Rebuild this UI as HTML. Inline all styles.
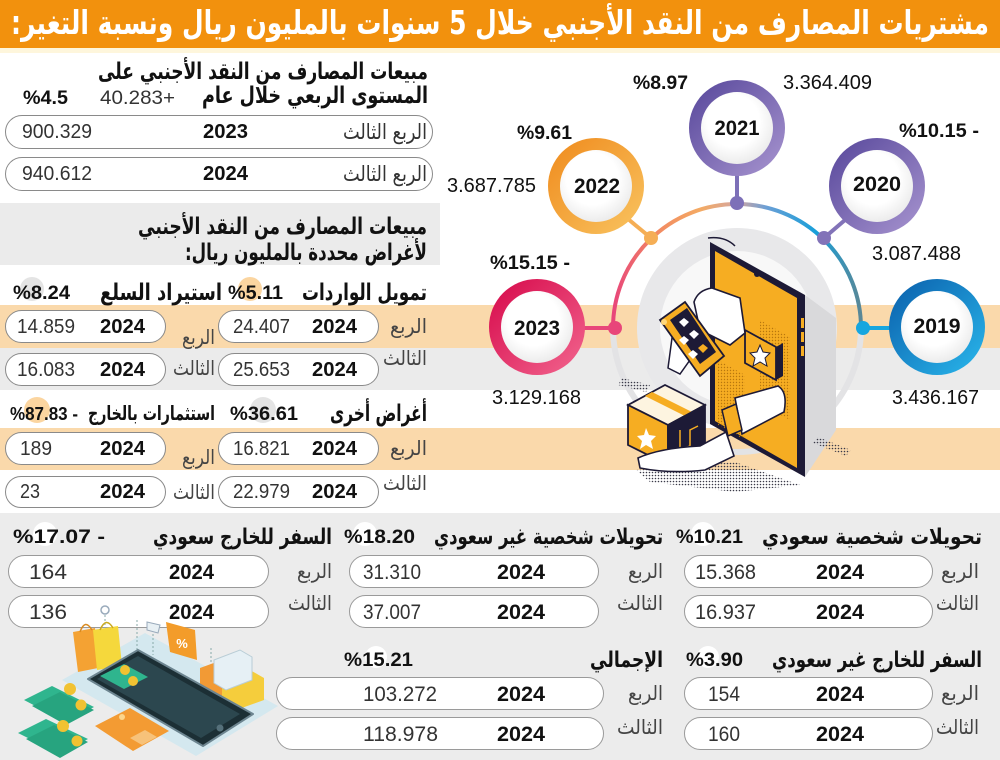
<!DOCTYPE html>
<html><head><meta charset="utf-8"><style>
html,body{margin:0;padding:0;background:#fff;}
svg{display:block;}
.ar{font-family:"DejaVu Sans",sans-serif;}
.arb{font-family:"DejaVu Sans",sans-serif;font-weight:bold;}
.n{font-family:"Liberation Sans","DejaVu Sans",sans-serif;fill:#333;}
.nb{font-family:"Liberation Sans","DejaVu Sans",sans-serif;font-weight:bold;fill:#111;}
</style></head><body>
<svg width="1000" height="760" viewBox="0 0 1000 760" xmlns="http://www.w3.org/2000/svg">
<defs>
<linearGradient id="gPur" x1="0" y1="0" x2="1" y2="1"><stop offset="0" stop-color="#56469a"/><stop offset="1" stop-color="#a895d0"/></linearGradient>
<linearGradient id="gOr" x1="0" y1="0" x2="1" y2="1"><stop offset="0" stop-color="#ef8a1c"/><stop offset="1" stop-color="#f9c461"/></linearGradient>
<linearGradient id="gRed" x1="0" y1="0" x2="1" y2="1"><stop offset="0" stop-color="#d6084a"/><stop offset="1" stop-color="#f2668f"/></linearGradient>
<linearGradient id="gBlue" x1="0" y1="0" x2="1" y2="1"><stop offset="0" stop-color="#0a5eab"/><stop offset="1" stop-color="#2ab8ec"/></linearGradient>
<radialGradient id="gIn" cx="0.45" cy="0.4" r="0.6"><stop offset="0.6" stop-color="#ffffff"/><stop offset="1" stop-color="#ececec"/></radialGradient>
<linearGradient id="gArc" gradientUnits="userSpaceOnUse" x1="613" y1="0" x2="861" y2="0">
<stop offset="0" stop-color="#e8457a"/><stop offset="0.18" stop-color="#f28a62"/><stop offset="0.35" stop-color="#f4aa63"/><stop offset="0.5" stop-color="#d4a6a0"/><stop offset="0.62" stop-color="#6a9fd6"/><stop offset="0.82" stop-color="#189fd9"/><stop offset="1" stop-color="#5a8796"/>
</linearGradient>
<pattern id="dots" width="3" height="3" patternUnits="userSpaceOnUse"><circle cx="1.5" cy="1.5" r="0.8" fill="#3a3a48"/></pattern>
<pattern id="dotsO" width="3" height="3" patternUnits="userSpaceOnUse"><circle cx="1.5" cy="1.5" r="0.7" fill="#b8770d"/></pattern>
</defs>

<!-- backgrounds -->
<rect x="0" y="0" width="1000" height="760" fill="#ffffff"/>
<rect x="0" y="0" width="1000" height="48" fill="#f2910d"/>
<rect x="0" y="48" width="1000" height="5" fill="#fef6dc"/>
<rect x="0" y="203" width="440" height="62" fill="#ebebeb"/>
<rect x="0" y="305" width="1000" height="43" fill="#fad9ab"/>
<rect x="0" y="348" width="1000" height="42" fill="#ebebeb"/>
<rect x="0" y="428" width="1000" height="42" fill="#fad9ab"/>
<rect x="0" y="513" width="1000" height="247" fill="#ececec"/>

<!-- title -->
<text class="arb" x="500" y="34" font-size="33" fill="#ffffff" text-anchor="middle" textLength="978" lengthAdjust="spacingAndGlyphs">:مشتريات المصارف من النقد الأجنبي خلال 5 سنوات بالمليون ريال ونسبة التغير</text>

<!-- top-left panel -->
<text class="arb" x="263" y="79" font-size="23" fill="#111" text-anchor="middle" textLength="330" lengthAdjust="spacingAndGlyphs">مبيعات المصارف من النقد الأجنبي على</text>
<text class="arb" x="315" y="103" font-size="23" fill="#111" text-anchor="middle" textLength="226" lengthAdjust="spacingAndGlyphs">المستوى الربعي خلال عام</text>
<text class="nb" x="45.5" y="104" font-size="19" text-anchor="middle" textLength="45" lengthAdjust="spacingAndGlyphs">%4.5</text>
<text class="n" x="137.5" y="104" font-size="19" text-anchor="middle" textLength="75" lengthAdjust="spacingAndGlyphs">40.283+</text>

<rect x="5.5" y="115.5" width="427" height="33" rx="16.5" fill="#fff" stroke="#8a8a8a" stroke-width="1"/>
<text class="n" x="57" y="138" font-size="20" text-anchor="middle" textLength="70" lengthAdjust="spacingAndGlyphs">900.329</text>
<text class="nb" x="225.5" y="138" font-size="20" text-anchor="middle" textLength="45" lengthAdjust="spacingAndGlyphs">2023</text>
<text class="ar" x="385" y="139" font-size="21" fill="#333" text-anchor="middle" textLength="84" lengthAdjust="spacingAndGlyphs">الربع الثالث</text>

<rect x="5.5" y="157.5" width="427" height="33" rx="16.5" fill="#fff" stroke="#8a8a8a" stroke-width="1"/>
<text class="n" x="57" y="180" font-size="20" text-anchor="middle" textLength="70" lengthAdjust="spacingAndGlyphs">940.612</text>
<text class="nb" x="225.5" y="180" font-size="20" text-anchor="middle" textLength="45" lengthAdjust="spacingAndGlyphs">2024</text>
<text class="ar" x="385" y="181" font-size="21" fill="#333" text-anchor="middle" textLength="84" lengthAdjust="spacingAndGlyphs">الربع الثالث</text>

<!-- gray box -->
<text class="arb" x="282.5" y="234" font-size="23" fill="#111" text-anchor="middle" textLength="289" lengthAdjust="spacingAndGlyphs">مبيعات المصارف من النقد الأجنبي</text>
<text class="arb" x="306" y="260" font-size="23" fill="#111" text-anchor="middle" textLength="242" lengthAdjust="spacingAndGlyphs">:لأغراض محددة بالمليون ريال</text>

<!-- header row 1 -->
<circle cx="250" cy="289" r="12" fill="#fbd5a0"/>
<circle cx="32" cy="289" r="12" fill="#e4e4e4"/>
<text class="arb" x="364.5" y="300" font-size="23" fill="#111" text-anchor="middle" textLength="125" lengthAdjust="spacingAndGlyphs">تمويل الواردات</text>
<text class="nb" x="255.5" y="299" font-size="19" text-anchor="middle" textLength="55" lengthAdjust="spacingAndGlyphs">%5.11</text>
<text class="arb" x="161" y="300" font-size="23" fill="#111" text-anchor="middle" textLength="122" lengthAdjust="spacingAndGlyphs">استيراد السلع</text>
<text class="nb" x="41.5" y="299" font-size="19" text-anchor="middle" textLength="57" lengthAdjust="spacingAndGlyphs">%8.24</text>

<!-- row 1 -->
<rect x="5.5" y="310.5" width="160" height="32" rx="16" fill="#fff" stroke="#8a8a8a"/>
<rect x="218.5" y="310.5" width="160" height="32" rx="16" fill="#fff" stroke="#8a8a8a"/>
<text class="n" x="46" y="333" font-size="20" text-anchor="middle" textLength="58" lengthAdjust="spacingAndGlyphs">14.859</text>
<text class="nb" x="122.5" y="333" font-size="20" text-anchor="middle" textLength="45" lengthAdjust="spacingAndGlyphs">2024</text>
<text class="n" x="261.5" y="333" font-size="20" text-anchor="middle" textLength="57" lengthAdjust="spacingAndGlyphs">24.407</text>
<text class="nb" x="334.5" y="333" font-size="20" text-anchor="middle" textLength="45" lengthAdjust="spacingAndGlyphs">2024</text>
<text class="ar" x="198.5" y="344" font-size="20" fill="#444" text-anchor="middle" textLength="33" lengthAdjust="spacingAndGlyphs">الربع</text>
<text class="ar" x="408.5" y="333" font-size="20" fill="#444" text-anchor="middle" textLength="37" lengthAdjust="spacingAndGlyphs">الربع</text>

<!-- row 2 -->
<rect x="5.5" y="353.5" width="160" height="32" rx="16" fill="#fff" stroke="#8a8a8a"/>
<rect x="218.5" y="353.5" width="160" height="32" rx="16" fill="#fff" stroke="#8a8a8a"/>
<text class="n" x="46" y="376" font-size="20" text-anchor="middle" textLength="58" lengthAdjust="spacingAndGlyphs">16.083</text>
<text class="nb" x="122.5" y="376" font-size="20" text-anchor="middle" textLength="45" lengthAdjust="spacingAndGlyphs">2024</text>
<text class="n" x="261.5" y="376" font-size="20" text-anchor="middle" textLength="57" lengthAdjust="spacingAndGlyphs">25.653</text>
<text class="nb" x="334.5" y="376" font-size="20" text-anchor="middle" textLength="45" lengthAdjust="spacingAndGlyphs">2024</text>
<text class="ar" x="194" y="375" font-size="20" fill="#444" text-anchor="middle" textLength="42" lengthAdjust="spacingAndGlyphs">الثالث</text>
<text class="ar" x="405" y="365" font-size="20" fill="#444" text-anchor="middle" textLength="44" lengthAdjust="spacingAndGlyphs">الثالث</text>

<!-- header row 2 -->
<circle cx="263" cy="410" r="13" fill="#e4e4e4"/>
<circle cx="37" cy="410" r="13" fill="#fbd5a0"/>
<text class="arb" x="378.5" y="421" font-size="23" fill="#111" text-anchor="middle" textLength="97" lengthAdjust="spacingAndGlyphs">أغراض أخرى</text>
<text class="nb" x="264" y="420" font-size="19" text-anchor="middle" textLength="68" lengthAdjust="spacingAndGlyphs">%36.61</text>
<text class="arb" x="151.5" y="420" font-size="20" fill="#111" text-anchor="middle" textLength="127" lengthAdjust="spacingAndGlyphs">استثمارات بالخارج</text>
<text class="nb" x="44" y="420" font-size="18" text-anchor="middle" textLength="68" lengthAdjust="spacingAndGlyphs">%87.83 -</text>

<!-- row 3 -->
<rect x="5.5" y="432.5" width="160" height="32" rx="16" fill="#fff" stroke="#8a8a8a"/>
<rect x="218.5" y="432.5" width="160" height="32" rx="16" fill="#fff" stroke="#8a8a8a"/>
<text class="n" x="36" y="455" font-size="20" text-anchor="middle" textLength="32" lengthAdjust="spacingAndGlyphs">189</text>
<text class="nb" x="122.5" y="455" font-size="20" text-anchor="middle" textLength="45" lengthAdjust="spacingAndGlyphs">2024</text>
<text class="n" x="261.5" y="455" font-size="20" text-anchor="middle" textLength="57" lengthAdjust="spacingAndGlyphs">16.821</text>
<text class="nb" x="334.5" y="455" font-size="20" text-anchor="middle" textLength="45" lengthAdjust="spacingAndGlyphs">2024</text>
<text class="ar" x="198.5" y="464" font-size="20" fill="#444" text-anchor="middle" textLength="33" lengthAdjust="spacingAndGlyphs">الربع</text>
<text class="ar" x="408.5" y="455" font-size="20" fill="#444" text-anchor="middle" textLength="37" lengthAdjust="spacingAndGlyphs">الربع</text>

<!-- row 4 -->
<rect x="5.5" y="476.5" width="160" height="31" rx="15.5" fill="#fff" stroke="#8a8a8a"/>
<rect x="218.5" y="476.5" width="160" height="31" rx="15.5" fill="#fff" stroke="#8a8a8a"/>
<text class="n" x="30" y="498" font-size="20" text-anchor="middle" textLength="20" lengthAdjust="spacingAndGlyphs">23</text>
<text class="nb" x="122.5" y="498" font-size="20" text-anchor="middle" textLength="45" lengthAdjust="spacingAndGlyphs">2024</text>
<text class="n" x="261.5" y="498" font-size="20" text-anchor="middle" textLength="57" lengthAdjust="spacingAndGlyphs">22.979</text>
<text class="nb" x="334.5" y="498" font-size="20" text-anchor="middle" textLength="45" lengthAdjust="spacingAndGlyphs">2024</text>
<text class="ar" x="194" y="499" font-size="20" fill="#444" text-anchor="middle" textLength="42" lengthAdjust="spacingAndGlyphs">الثالث</text>
<text class="ar" x="405" y="490" font-size="20" fill="#444" text-anchor="middle" textLength="44" lengthAdjust="spacingAndGlyphs">الثالث</text>

<!-- ===== right: timeline ===== -->
<circle cx="737" cy="328" r="100" fill="#e8e8ea"/>
<circle cx="737" cy="328" r="77" fill="#f8f8f8"/>
<path d="M613 328 A124 124 0 0 0 861 328" fill="none" stroke="#e3e3e5" stroke-width="6"/>
<path d="M613 328 A124 124 0 0 1 861 328" fill="none" stroke="url(#gArc)" stroke-width="4"/>
<polygon points="805,295 836,318 836,430 805,477" fill="#d9d9db"/>

<!-- connectors -->
<line x1="737" y1="175" x2="737" y2="203" stroke="#7d70b8" stroke-width="4"/>
<line x1="628" y1="219" x2="651" y2="238" stroke="#f5ae55" stroke-width="4"/>
<line x1="845" y1="220" x2="824" y2="238" stroke="#8273b8" stroke-width="4"/>
<line x1="584" y1="328" x2="615" y2="328" stroke="#e8467a" stroke-width="4"/>
<line x1="863" y1="328" x2="890" y2="328" stroke="#17a6df" stroke-width="4"/>
<circle cx="737" cy="203" r="7" fill="#7d70b8"/>
<circle cx="651" cy="238" r="7" fill="#f5ae55"/>
<circle cx="824" cy="238" r="7" fill="#8273b8"/>
<circle cx="615" cy="328" r="7" fill="#e8467a"/>
<circle cx="863" cy="328" r="7" fill="#17a6df"/>

<!-- circles -->
<circle cx="737" cy="128" r="48" fill="url(#gPur)"/><circle cx="737" cy="128" r="36" fill="url(#gIn)"/>
<circle cx="596" cy="186" r="48" fill="url(#gOr)"/><circle cx="596" cy="186" r="36" fill="url(#gIn)"/>
<circle cx="877" cy="186" r="48" fill="url(#gPur)"/><circle cx="877" cy="186" r="36" fill="url(#gIn)"/>
<circle cx="537" cy="327" r="48" fill="url(#gRed)"/><circle cx="537" cy="327" r="36" fill="url(#gIn)"/>
<circle cx="937" cy="327" r="48" fill="url(#gBlue)"/><circle cx="937" cy="327" r="36" fill="url(#gIn)"/>

<text class="nb" x="737" y="135" font-size="21" text-anchor="middle" textLength="45" lengthAdjust="spacingAndGlyphs">2021</text>
<text class="nb" x="597" y="193" font-size="21" text-anchor="middle" textLength="46" lengthAdjust="spacingAndGlyphs">2022</text>
<text class="nb" x="877" y="191" font-size="21" text-anchor="middle" textLength="48" lengthAdjust="spacingAndGlyphs">2020</text>
<text class="nb" x="537" y="335" font-size="21" text-anchor="middle" textLength="46" lengthAdjust="spacingAndGlyphs">2023</text>
<text class="nb" x="937" y="333" font-size="21" text-anchor="middle" textLength="47" lengthAdjust="spacingAndGlyphs">2019</text>

<text class="nb" x="660.5" y="89" font-size="19" text-anchor="middle" textLength="55" lengthAdjust="spacingAndGlyphs">%8.97</text>
<text class="n" x="827.5" y="89" font-size="20" text-anchor="middle" textLength="89" lengthAdjust="spacingAndGlyphs" style="fill:#111">3.364.409</text>
<text class="nb" x="544.5" y="139" font-size="19" text-anchor="middle" textLength="55" lengthAdjust="spacingAndGlyphs">%9.61</text>
<text class="nb" x="939" y="137" font-size="19" text-anchor="middle" textLength="80" lengthAdjust="spacingAndGlyphs">%10.15 -</text>
<text class="n" x="491.5" y="192" font-size="20" text-anchor="middle" textLength="89" lengthAdjust="spacingAndGlyphs" style="fill:#111">3.687.785</text>
<text class="n" x="916.5" y="260" font-size="20" text-anchor="middle" textLength="89" lengthAdjust="spacingAndGlyphs" style="fill:#111">3.087.488</text>
<text class="nb" x="530" y="269" font-size="19" text-anchor="middle" textLength="80" lengthAdjust="spacingAndGlyphs">%15.15 -</text>
<text class="n" x="536.5" y="404" font-size="20" text-anchor="middle" textLength="89" lengthAdjust="spacingAndGlyphs" style="fill:#111">3.129.168</text>
<text class="n" x="935.5" y="404" font-size="20" text-anchor="middle" textLength="87" lengthAdjust="spacingAndGlyphs" style="fill:#111">3.436.167</text>

<!-- phone illustration -->
<polygon points="636,470 735,462 800,485 735,492 650,482" fill="url(#dots)"/>
<polygon points="818,437 851,450 846,456 813,443" fill="url(#dots)"/>
<polygon points="622,378 650,385 646,392 618,385" fill="url(#dots)"/>
<polygon points="710,242 805,295 805,477 710,424" fill="#1d1a36"/>
<polygon points="715,251 797,298 797,468 715,421" fill="#f6ad22"/>
<polygon points="760,320 790,337 790,420 760,404" fill="url(#dotsO)"/>
<polygon points="718,360 745,375 745,440 718,425" fill="url(#dotsO)"/>
<circle cx="757" cy="274" r="3" fill="#1d1a36"/>
<rect x="801" y="318" width="3" height="10" fill="#f6ad22"/>
<rect x="801" y="332" width="3" height="10" fill="#f6ad22"/>
<rect x="801" y="346" width="3" height="10" fill="#f6ad22"/>
<path d="M708 238 Q725 236 735 246" fill="none" stroke="#1d1a36" stroke-width="1.5"/>
<polygon points="745,330 776,347 776,380 745,363" fill="#f6ad22" stroke="#1d1a36" stroke-width="1.8"/>
<polygon points="776,347 783,343 783,376 776,380" fill="#1d1a36"/>
<polygon points="760,345 763,352 770,353 765,358 767,366 760,362 753,366 755,358 750,353 757,352" fill="#fff" stroke="#1d1a36" stroke-width="1"/>
<path d="M740 298 L712 288 Q698 290 694 302 L700 330 L730 345 L745 333 Z" fill="#fff" stroke="#1d1a36" stroke-width="1.6"/>
<path d="M672 338 L668 368 L680 374 L690 360 L700 372 L706 352 Z" fill="#fff" stroke="#1d1a36" stroke-width="1.5"/>
<polygon points="660,320 685,302 724,356 700,376" fill="#f6ad22" stroke="#1d1a36" stroke-width="1.8"/>
<polygon points="670,320 687,308 716,352 700,364" fill="#1d1a36"/>
<polygon points="684,318 689,322 684,327 679,322" fill="#fff"/>
<polygon points="694,330 699,334 694,339 689,334" fill="#fff"/>
<polygon points="684,336 689,340 684,345 679,340" fill="#fff"/>
<polygon points="703,344 708,348 703,353 698,348" fill="#f6ad22"/>
<polygon points="693,350 698,354 693,359 688,354" fill="#fff"/>
<circle cx="664" cy="322" r="3" fill="#ffd77a"/>
<polygon points="628,405 665,385 705,405 668,425" fill="#fdf4e0" stroke="#1d1a36" stroke-width="1.8"/>
<polygon points="645,396 652,392 692,412 685,416" fill="#f6ad22"/>
<polygon points="628,405 668,425 668,465 628,445" fill="#f6ad22" stroke="#1d1a36" stroke-width="1.8"/>
<polygon points="668,425 705,405 705,445 668,465" fill="#1d1a36" stroke="#1d1a36" stroke-width="1.8"/>
<path d="M680 430 L680 450 L690 446 L690 430 L698 426" fill="none" stroke="#f6ad22" stroke-width="1.5"/>
<polygon points="646,428 649,435 656,436 651,441 653,449 646,445 640,449 642,441 637,436 644,435" fill="#fff"/>
<path d="M735 398 L778 386 Q788 392 784 412 L742 434 Z" fill="#fff" stroke="#1d1a36" stroke-width="1.6"/>
<polygon points="722,410 736,404 742,430 728,436" fill="#f6ad22" stroke="#1d1a36" stroke-width="1.5"/>
<path d="M638 458 Q660 448 700 446 L726 432 L734 456 L705 470 Q670 474 640 468 Z" fill="#fff" stroke="#1d1a36" stroke-width="1.6"/>

<!-- ===== bottom section ===== -->
<circle cx="703" cy="534" r="12" fill="#fff"/>
<circle cx="365" cy="534" r="12" fill="#fff"/>
<circle cx="45" cy="534" r="12" fill="#fff"/>
<text class="arb" x="872" y="544" font-size="22" fill="#111" text-anchor="middle" textLength="220" lengthAdjust="spacingAndGlyphs">تحويلات شخصية سعودي</text>
<text class="nb" x="709.5" y="543" font-size="19" text-anchor="middle" textLength="67" lengthAdjust="spacingAndGlyphs">%10.21</text>
<text class="arb" x="548.5" y="544" font-size="22" fill="#111" text-anchor="middle" textLength="229" lengthAdjust="spacingAndGlyphs">تحويلات شخصية غير سعودي</text>
<text class="nb" x="379.5" y="543" font-size="19" text-anchor="middle" textLength="71" lengthAdjust="spacingAndGlyphs">%18.20</text>
<text class="arb" x="242.5" y="544" font-size="22" fill="#111" text-anchor="middle" textLength="179" lengthAdjust="spacingAndGlyphs">السفر للخارج سعودي</text>
<text class="nb" x="59" y="543" font-size="19" text-anchor="middle" textLength="92" lengthAdjust="spacingAndGlyphs">%17.07 -</text>

<rect x="8.5" y="555.5" width="260" height="32" rx="16" fill="#fff" stroke="#9a9a9a"/>
<rect x="349.5" y="555.5" width="249" height="32" rx="16" fill="#fff" stroke="#9a9a9a"/>
<rect x="684.5" y="555.5" width="248" height="32" rx="16" fill="#fff" stroke="#9a9a9a"/>
<text class="n" x="48" y="579" font-size="21" text-anchor="middle" textLength="38" lengthAdjust="spacingAndGlyphs">164</text>
<text class="nb" x="191.5" y="579" font-size="21" text-anchor="middle" textLength="45" lengthAdjust="spacingAndGlyphs">2024</text>
<text class="n" x="392" y="579" font-size="21" text-anchor="middle" textLength="58" lengthAdjust="spacingAndGlyphs">31.310</text>
<text class="nb" x="521" y="579" font-size="21" text-anchor="middle" textLength="48" lengthAdjust="spacingAndGlyphs">2024</text>
<text class="n" x="725.5" y="579" font-size="21" text-anchor="middle" textLength="61" lengthAdjust="spacingAndGlyphs">15.368</text>
<text class="nb" x="840" y="579" font-size="21" text-anchor="middle" textLength="48" lengthAdjust="spacingAndGlyphs">2024</text>
<text class="ar" x="314.5" y="578" font-size="20" fill="#444" text-anchor="middle" textLength="35" lengthAdjust="spacingAndGlyphs">الربع</text>
<text class="ar" x="645.5" y="578" font-size="20" fill="#444" text-anchor="middle" textLength="35" lengthAdjust="spacingAndGlyphs">الربع</text>
<text class="ar" x="960" y="578" font-size="20" fill="#444" text-anchor="middle" textLength="38" lengthAdjust="spacingAndGlyphs">الربع</text>

<rect x="8.5" y="595.5" width="260" height="32" rx="16" fill="#fff" stroke="#9a9a9a"/>
<rect x="349.5" y="595.5" width="249" height="32" rx="16" fill="#fff" stroke="#9a9a9a"/>
<rect x="684.5" y="595.5" width="248" height="32" rx="16" fill="#fff" stroke="#9a9a9a"/>
<text class="n" x="48" y="619" font-size="21" text-anchor="middle" textLength="38" lengthAdjust="spacingAndGlyphs">136</text>
<text class="nb" x="191.5" y="619" font-size="21" text-anchor="middle" textLength="45" lengthAdjust="spacingAndGlyphs">2024</text>
<text class="n" x="392" y="619" font-size="21" text-anchor="middle" textLength="58" lengthAdjust="spacingAndGlyphs">37.007</text>
<text class="nb" x="521" y="619" font-size="21" text-anchor="middle" textLength="48" lengthAdjust="spacingAndGlyphs">2024</text>
<text class="n" x="725.5" y="619" font-size="21" text-anchor="middle" textLength="61" lengthAdjust="spacingAndGlyphs">16.937</text>
<text class="nb" x="840" y="619" font-size="21" text-anchor="middle" textLength="48" lengthAdjust="spacingAndGlyphs">2024</text>
<text class="ar" x="310" y="610" font-size="20" fill="#444" text-anchor="middle" textLength="44" lengthAdjust="spacingAndGlyphs">الثالث</text>
<text class="ar" x="640" y="610" font-size="20" fill="#444" text-anchor="middle" textLength="46" lengthAdjust="spacingAndGlyphs">الثالث</text>
<text class="ar" x="957.5" y="610" font-size="20" fill="#444" text-anchor="middle" textLength="43" lengthAdjust="spacingAndGlyphs">الثالث</text>

<circle cx="708" cy="657" r="11" fill="#fff"/>
<circle cx="376" cy="657" r="11" fill="#fff"/>
<text class="arb" x="877" y="667" font-size="22" fill="#111" text-anchor="middle" textLength="210" lengthAdjust="spacingAndGlyphs">السفر للخارج غير سعودي</text>
<text class="nb" x="714.5" y="666" font-size="19" text-anchor="middle" textLength="57" lengthAdjust="spacingAndGlyphs">%3.90</text>
<text class="arb" x="626.5" y="667" font-size="22" fill="#111" text-anchor="middle" textLength="73" lengthAdjust="spacingAndGlyphs">الإجمالي</text>
<text class="nb" x="378.5" y="666" font-size="19" text-anchor="middle" textLength="69" lengthAdjust="spacingAndGlyphs">%15.21</text>

<rect x="684.5" y="677.5" width="248" height="32" rx="16" fill="#fff" stroke="#9a9a9a"/>
<rect x="276.5" y="677.5" width="327" height="32" rx="16" fill="#fff" stroke="#9a9a9a"/>
<text class="n" x="724" y="701" font-size="21" text-anchor="middle" textLength="32" lengthAdjust="spacingAndGlyphs">154</text>
<text class="nb" x="840" y="701" font-size="21" text-anchor="middle" textLength="48" lengthAdjust="spacingAndGlyphs">2024</text>
<text class="n" x="400" y="701" font-size="21" text-anchor="middle" textLength="74" lengthAdjust="spacingAndGlyphs">103.272</text>
<text class="nb" x="521" y="701" font-size="21" text-anchor="middle" textLength="48" lengthAdjust="spacingAndGlyphs">2024</text>
<text class="ar" x="645.5" y="700" font-size="20" fill="#444" text-anchor="middle" textLength="35" lengthAdjust="spacingAndGlyphs">الربع</text>
<text class="ar" x="960" y="700" font-size="20" fill="#444" text-anchor="middle" textLength="38" lengthAdjust="spacingAndGlyphs">الربع</text>

<rect x="684.5" y="717.5" width="248" height="32" rx="16" fill="#fff" stroke="#9a9a9a"/>
<rect x="276.5" y="717.5" width="327" height="32" rx="16" fill="#fff" stroke="#9a9a9a"/>
<text class="n" x="724" y="741" font-size="21" text-anchor="middle" textLength="32" lengthAdjust="spacingAndGlyphs">160</text>
<text class="nb" x="840" y="741" font-size="21" text-anchor="middle" textLength="48" lengthAdjust="spacingAndGlyphs">2024</text>
<text class="n" x="400.5" y="741" font-size="21" text-anchor="middle" textLength="75" lengthAdjust="spacingAndGlyphs">118.978</text>
<text class="nb" x="521" y="741" font-size="21" text-anchor="middle" textLength="48" lengthAdjust="spacingAndGlyphs">2024</text>
<text class="ar" x="640" y="734" font-size="20" fill="#444" text-anchor="middle" textLength="46" lengthAdjust="spacingAndGlyphs">الثالث</text>
<text class="ar" x="957.5" y="734" font-size="20" fill="#444" text-anchor="middle" textLength="43" lengthAdjust="spacingAndGlyphs">الثالث</text>

<!-- bottom-left illustration -->
<polygon points="62,680 145,633 278,706 196,756" fill="#d4e8ef"/>
<line x1="105" y1="615" x2="105" y2="628" stroke="#8aa" stroke-width="1" stroke-dasharray="2,2"/>
<circle cx="105" cy="610" r="4" fill="none" stroke="#9ab" stroke-width="1.5"/>
<line x1="137" y1="620" x2="137" y2="650" stroke="#8aa" stroke-width="1" stroke-dasharray="2,2"/>
<line x1="153" y1="630" x2="153" y2="655" stroke="#8aa" stroke-width="1" stroke-dasharray="2,2"/>
<line x1="211" y1="648" x2="211" y2="668" stroke="#8aa" stroke-width="1" stroke-dasharray="2,2"/>
<polygon points="147,622 160,625 158,633 147,630" fill="#e8f0f4" stroke="#9ab"/>
<polygon points="73,632 95,628 98,668 78,672" fill="#f4a233"/>
<polygon points="93,630 118,626 122,666 97,670" fill="#f5d83c"/>
<path d="M80 632 Q85 618 92 630" fill="none" stroke="#d98a20" stroke-width="1.5"/>
<path d="M100 630 Q106 616 113 628" fill="none" stroke="#c9a920" stroke-width="1.5"/>
<polygon points="166,622 195,630 197,660 170,652" fill="#f39c2a"/>
<text x="182" y="648" font-family="Liberation Sans,sans-serif" font-weight="bold" font-size="13" fill="#fff" text-anchor="middle">%</text>
<polygon points="200,668 222,660 240,668 240,692 218,700 200,690" fill="#f29a35"/>
<polygon points="222,680 250,670 264,678 264,700 236,710 222,702" fill="#f5cd3c"/>
<polygon points="214,660 240,650 252,657 252,680 226,690 214,683" fill="#e6f0f5" stroke="#b9cdd6"/>
<polygon points="88,679 138,650 253,714 203,746" fill="#1c2f35" stroke="#6d8590" stroke-width="2" stroke-linejoin="round"/>
<polygon points="97,679 138,656 240,714 201,738" fill="#2c474f"/>
<circle cx="220" cy="728" r="3.5" fill="#55707a"/>
<polygon points="100,676 124,664 148,677 124,689" fill="#2fb58e"/>
<circle cx="125" cy="670" r="5" fill="#f1c232"/>
<circle cx="133" cy="681" r="5" fill="#f1c232"/>
<polygon points="24,700 52,686 94,707 66,722" fill="#2fb58e"/>
<polygon points="32,706 60,692 94,710 66,725" fill="#27a47f"/>
<circle cx="70" cy="689" r="6" fill="#f1c232"/>
<circle cx="81" cy="705" r="5.5" fill="#f1c232"/>
<polygon points="18,733 46,719 88,739 60,754" fill="#2fb58e"/>
<polygon points="26,739 54,725 88,742 60,758" fill="#27a47f"/>
<circle cx="63" cy="726" r="6" fill="#f1c232"/>
<circle cx="77" cy="741" r="5.5" fill="#f1c232"/>
<polygon points="95,726 130,708 169,731 133,751" fill="#f39b33"/>
<polygon points="130,738 145,730 157,737 142,745" fill="#f7c27a"/>
<circle cx="122" cy="717" r="3" fill="#fcd58a"/>
</svg>
</body></html>
